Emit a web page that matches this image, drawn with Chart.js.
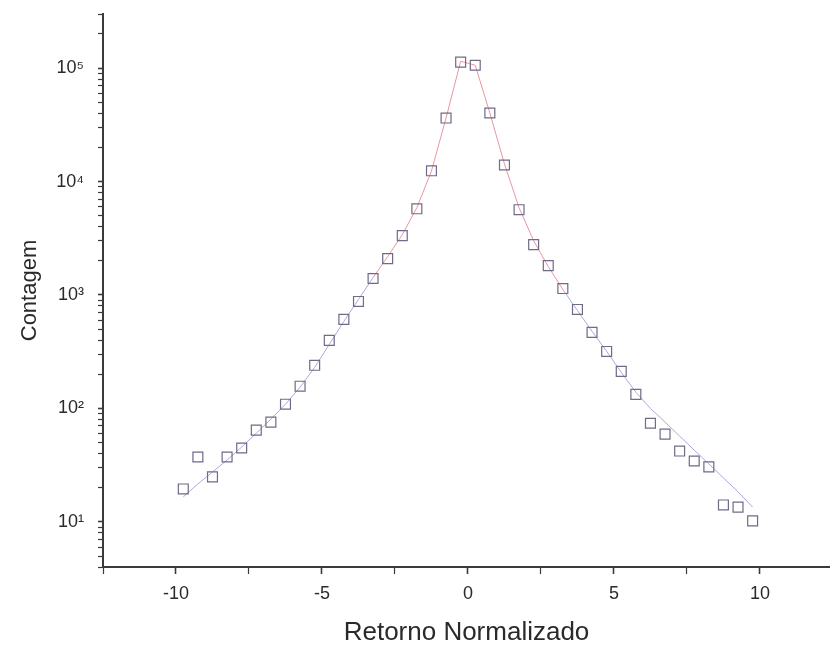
<!DOCTYPE html>
<html><head><meta charset="utf-8">
<script src="https://cdn.jsdelivr.net/npm/chart.js@4"></script>
<style>html,body{margin:0;padding:0;background:#fff;}canvas{display:block;}</style>
</head><body>
<canvas id="c" width="830" height="648"></canvas>
<script>
// Data
const xValues = [-9.75,-9.25,-8.75,-8.25,-7.75,-7.25,-6.75,-6.25,-5.75,-5.25,-4.75,-4.25,-3.75,-3.25,-2.75,-2.25,-1.75,-1.25,-0.75,-0.25,
                 0.25,0.75,1.25,1.75,2.25,2.75,3.25,3.75,4.25,4.75,5.25,5.75,6.25,6.75,7.25,7.75,8.25,8.75,9.25,9.75];
const counts = [19.5,37.3,24.9,37.3,44.8,64.4,75.7,109,157,240,398,609,877,1397,2094,3336,5755,12440,36300,113000,
                106000,40200,14000,5650,2780,1816,1140,746,468,318,212,133,74,59.4,42.1,34.4,30.5,14.1,13.5,10.2];
const fitX = [-9.75,-9.25,-8.75,-8.25,-7.75,-7.25,-6.75,-6.25,-5.75,-5.25,-4.75,-4.25,-3.75,-3.25,-2.75,-2.25,-1.75,-1.25,-0.75,-0.25,
              0.25,0.75,1.25,1.75,2.25,2.75,3.25,3.75,4.25,4.75,5.25,5.75,6.25,6.75,7.25,7.75,8.25,8.75,9.25,9.75];
const fitCounts = [16.6,21.6,27.5,35.1,45.6,60.5,80.4,109,154,230,367,585,913,1425,2180,3400,5880,12400,36300,115000,
                   106000,40200,14300,5880,3010,1780,1120,731,478,319,208,139,100,75.7,57.0,42.9,32.4,24.4,18.4,13.5];
const xTickValues = [-12.5,-10,-7.5,-5,-2.5,0,2.5,5,7.5,10];
const xTickLabels = ['','-10','','-5','','0','','5','','10'];
const yDecades = [1,10,100,1000,10000,100000];
const yMultipliers = [1,2,3,4,5,6,7,8,9];
const xTitle = 'Retorno Normalizado';
const yTitle = 'Contagem';

const Y_MIN = 4, Y_MAX = 300000;
const yTickValues = [];
yDecades.forEach(d => yMultipliers.forEach(m => { const v = d*m; if (v >= Y_MIN && v <= Y_MAX) yTickValues.push(v); }));
const sup = {'0':'⁰','1':'¹','2':'²','3':'³','4':'⁴','5':'⁵','6':'⁶','7':'⁷','8':'⁸','9':'⁹'};
function isDecade(v){ const l = Math.log10(v); return Math.abs(l - Math.round(l)) < 1e-9; }

const pink = '#e896a2', blue = '#a9a9dc';
const axisColor = '#3a3a3a', textColor = '#2a2a2a';
const FONT = "'Liberation Sans', Arial, Helvetica, sans-serif";

new Chart(document.getElementById('c'), {
  type: 'scatter',
  data: {
    datasets: [
      {
        label: 'fit',
        data: fitX.map((x,i)=>({x, y: fitCounts[i]})),
        showLine: true,
        pointRadius: 0,
        borderWidth: 1,
        borderColor: blue,
        segment: {
          borderColor: c => (Math.abs(c.p0.parsed.x) <= 3.25 && Math.abs(c.p1.parsed.x) <= 3.25) ? pink : blue
        },
        order: 2
      },
      {
        label: 'data',
        data: xValues.map((x,i)=>({x, y: counts[i]})),
        pointStyle: 'rect',
        pointRadius: 7,
        pointBorderWidth: 1.2,
        pointBorderColor: '#6f6a86',
        pointBackgroundColor: 'rgba(255,255,255,0)',
        showLine: false,
        order: 1
      }
    ]
  },
  options: {
    responsive: false,
    animation: false,
    layout: { autoPadding: false, padding: { top: 14, right: 0, left: 0, bottom: 0 } },
    plugins: { legend: { display: false }, tooltip: { enabled: false } },
    scales: {
      x: {
        type: 'linear',
        min: -12.5, max: 12.4,
        afterBuildTicks: s => { s.ticks = xTickValues.map(v => ({ value: v })); },
        afterFit: s => { s.height = 81; s.paddingLeft = 0; s.paddingRight = 0; },
        ticks: {
          autoSkip: false, maxRotation: 0, padding: 9,
          color: textColor, font: { family: FONT, size: 18 },
          callback: (v, i) => xTickLabels[i]
        },
        grid: {
          drawOnChartArea: false, drawTicks: true, tickLength: 7,
          tickColor: axisColor, tickWidth: c => (xTickLabels[c.index] ? 1.6 : 1.2)
        },
        border: { display: true, color: axisColor, width: 2 },
        title: { display: true, text: xTitle, color: textColor, font: { family: FONT, size: 26 }, padding: { top: 0, bottom: 0 } }
      },
      y: {
        type: 'logarithmic',
        min: Y_MIN, max: Y_MAX,
        afterBuildTicks: s => { s.ticks = yTickValues.map(v => ({ value: v, major: isDecade(v) })); },
        afterFit: s => { s.width = 103; s.paddingTop = 0; s.paddingBottom = 0; },
        ticks: {
          autoSkip: false, padding: 14,
          color: textColor, font: { family: FONT, size: 18 },
          callback: v => isDecade(v) ? '10' + String(Math.round(Math.log10(v))).split('').map(ch => sup[ch]).join('') : ''
        },
        grid: {
          drawOnChartArea: false, drawTicks: true, tickLength: 5,
          tickColor: axisColor, tickWidth: c => (c.tick && isDecade(c.tick.value) ? 1.6 : 1.2)
        },
        border: { display: true, color: axisColor, width: 2 },
        title: { display: true, text: yTitle, color: textColor, font: { family: FONT, size: 22 }, padding: { top: 17, bottom: 0 } }
      }
    }
  }
});
</script>
</body></html>
